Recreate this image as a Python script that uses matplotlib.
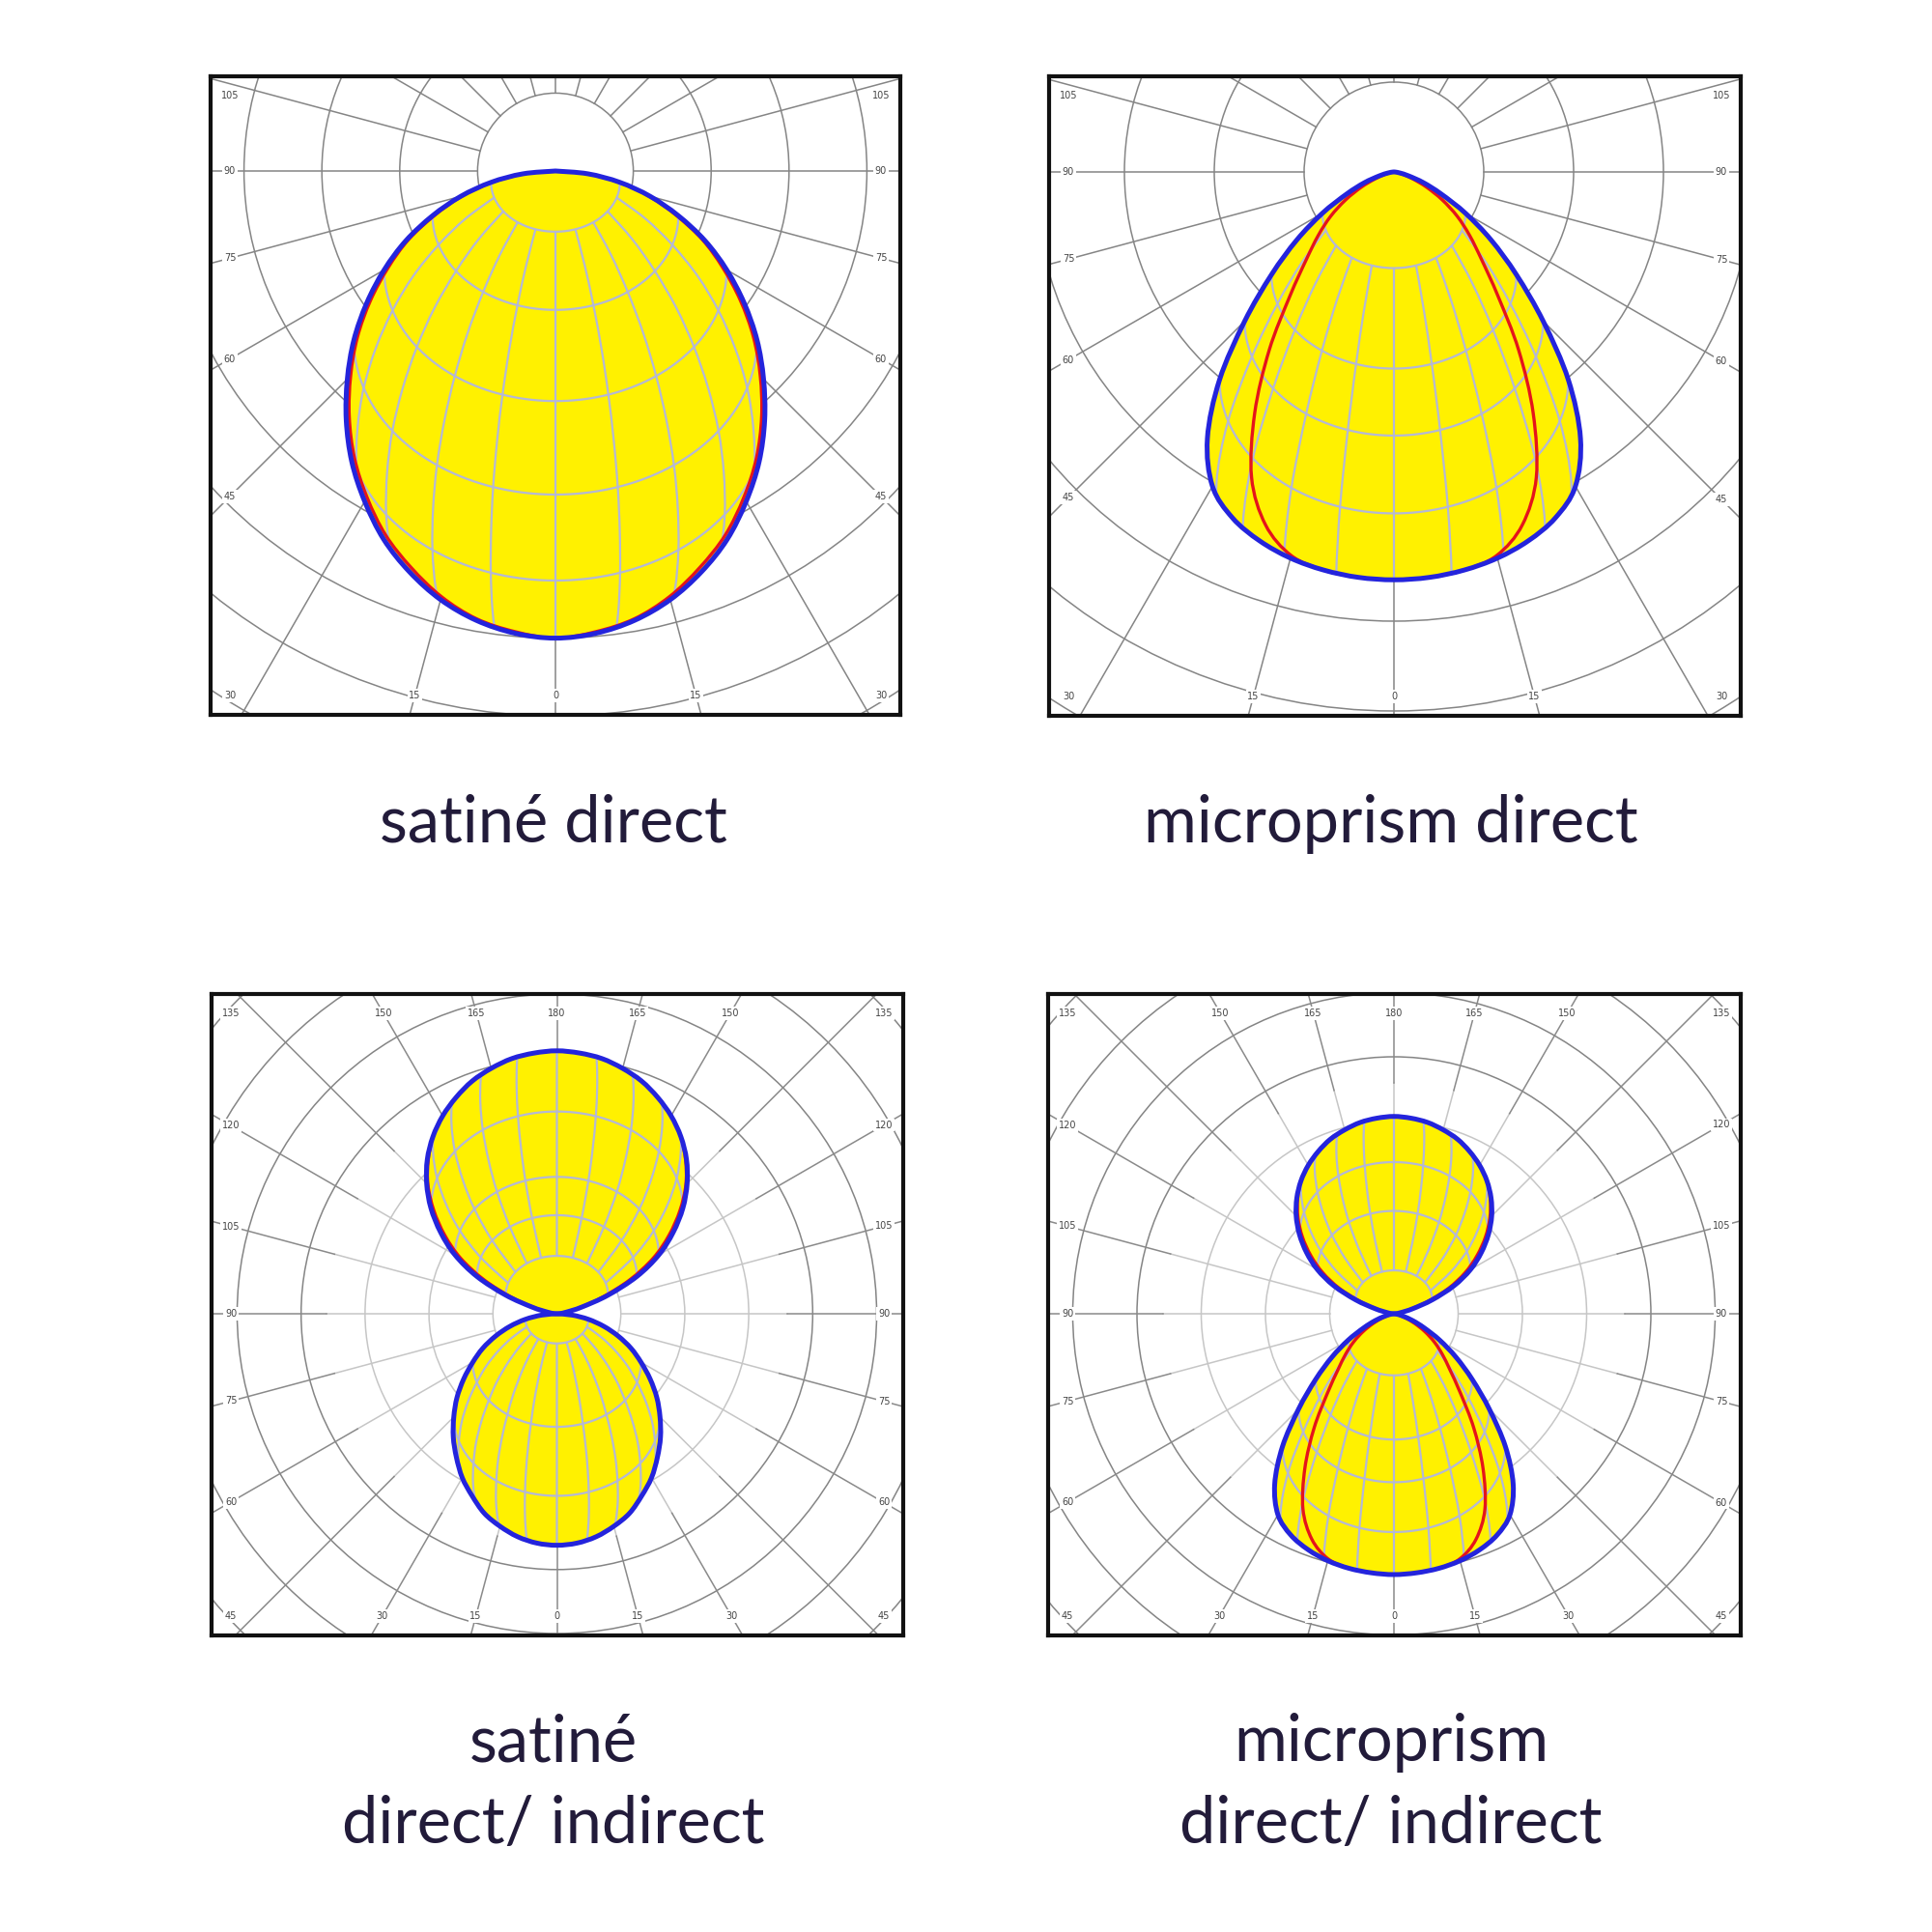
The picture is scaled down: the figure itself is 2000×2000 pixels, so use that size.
import numpy as np
import matplotlib
matplotlib.use("Agg")
import matplotlib.pyplot as plt
from matplotlib.patches import Circle, PathPatch
from matplotlib.path import Path

# ---------------- data (luminous intensity, cd/klm) ----------------
# angle measured from nadir for the direct lobes, from zenith for the indirect lobes
angles = [0, 5, 10, 15, 20, 25, 30, 35, 40, 45, 50, 55, 60, 65, 70, 75, 80, 85, 90]

satine_direct_c0 = [300, 298, 293, 285, 274, 261, 245, 228, 209, 189, 169, 148, 127, 106, 84, 63, 42, 21, 0]
satine_direct_c90 = [300, 297, 292, 283, 271, 258, 242, 225, 206, 186, 166, 145, 124, 104, 82, 62, 41, 20, 0]

micro_direct_c0 = [454, 453, 450, 445, 437, 425, 404, 362, 302, 235, 178, 132, 92, 58, 35, 17, 7, 2, 0]
micro_direct_c90 = [454, 453, 450, 442, 418, 375, 310, 242, 180, 138, 110, 86, 62, 40, 22, 10, 4, 1, 0]

satine_di_down_c0 = [90.5, 90, 88.5, 86, 83, 78.5, 74, 68.5, 63, 57, 51, 44.5, 38, 32, 25.5, 19, 12.5, 6, 0]
satine_di_down_c90 = [90.5, 90, 88.5, 86, 83, 78.5, 74, 68.5, 63, 57, 51, 44.5, 38, 32, 25.5, 19, 12.5, 6, 0]
satine_di_up_c0 = [102.8, 102.3, 101.3, 99.3, 96.8, 93.3, 89.3, 84.5, 78.8, 72, 64.3, 55.5, 46, 34.5, 21.3, 10, 3.8, 1.3, 0]
satine_di_up_c90 = [102.8, 102.3, 101.3, 99.3, 96.8, 93.3, 89.3, 84.5, 78.3, 71.3, 62.8, 53.5, 43.5, 31.5, 19, 9, 3.3, 1.3, 0]

micro_di_down_c0 = [101.5, 101.2, 100.6, 99.5, 97.7, 95, 90.3, 80.9, 67.5, 52.5, 39.8, 29.5, 20.6, 13, 7.8, 3.8, 1.6, 0.4, 0]
micro_di_down_c90 = [101.5, 101.2, 100.6, 98.8, 93.4, 83.8, 69.3, 54.1, 40.2, 30.8, 24.6, 19.2, 13.9, 8.9, 4.9, 2.2, 0.9, 0.2, 0]
micro_di_up_c0 = [76.8, 76.4, 75.6, 74.1, 72.3, 69.7, 66.7, 63.1, 58.8, 53.8, 48, 41.5, 34.4, 25.8, 15.9, 7.5, 2.8, 0.9, 0]
micro_di_up_c90 = [76.8, 76.4, 75.6, 74.1, 72.3, 69.7, 66.7, 63.1, 58.3, 52.8, 46.5, 39.5, 32, 23.5, 14, 6.5, 2.5, 0.9, 0]

titles = ["satiné direct", "microprism direct", "satiné\ndirect/ indirect", "microprism\ndirect/ indirect"]
label_angles_direct = [0, 15, 30, 45, 60, 75, 90, 105]
label_angles_full = [0, 15, 30, 45, 60, 75, 90, 105, 120, 135, 150, 165, 180]

# ---------------- layout / style ----------------
W = 2000.0
YELLOW = "#FFF100"
BLUE = "#2424DC"
RED = "#E5141B"
MESH = "#B4B8D6"
TITLE_COLOR = "#221b3a"

panels = [
    dict(box=(218, 79, 932, 740), center=(575, 177), ring_px=80.6, step=50,
         lobes=[(satine_direct_c0, satine_direct_c90, False, [80, 70, 60, 50, 40])],
         labels=label_angles_direct, light_inner=False,
         title=titles[0], tx=573, ty=872),
    dict(box=(1086, 79, 1802, 741), center=(1443, 178), ring_px=93.0, step=100,
         lobes=[(micro_direct_c0, micro_direct_c90, False, [60, 50, 45, 40])],
         labels=label_angles_direct, light_inner=False,
         title=titles[1], tx=1440, ty=872),
    dict(box=(219, 1029, 935, 1693), center=(576.5, 1360), ring_px=66.2, step=25,
         lobes=[(satine_di_up_c0, satine_di_up_c90, True, [70, 65, 60, 50]),
                (satine_di_down_c0, satine_di_down_c90, False, [80, 60, 45])],
         labels=label_angles_full, light_inner=True,
         title=titles[2], tx=573, ty=1823),
    dict(box=(1085, 1029, 1802, 1693), center=(1443, 1360), ring_px=66.5, step=25,
         lobes=[(micro_di_up_c0, micro_di_up_c90, True, [70, 60, 50]),
                (micro_di_down_c0, micro_di_down_c90, False, [60, 50, 45, 40])],
         labels=label_angles_full, light_inner=True,
         title=titles[3], tx=1440, ty=1823),
]

ELEV = np.radians(50)
LINE_GAP = 85


def smooth_path(pts, close=False):
    """Catmull-Rom spline through the points, rendered as cubic Bezier segments."""
    P = np.asarray(pts, float)
    n = len(P)
    verts = [P[0]]
    codes = [Path.MOVETO]
    for i in range(n - 1):
        p0 = P[max(i - 1, 0)]
        p1 = P[i]
        p2 = P[i + 1]
        p3 = P[min(i + 2, n - 1)]
        c1 = p1 + (p2 - p0) / 6.0
        c2 = p2 - (p3 - p1) / 6.0
        verts += [c1, c2, p2]
        codes += [Path.CURVE4] * 3
    if close:
        verts.append(P[0])
        codes.append(Path.CLOSEPOLY)
    return Path(np.array(verts), codes)


def lobe_xy(vals, up):
    g = np.radians(angles)
    v = np.asarray(vals, float)
    s = 1.0 if up else -1.0
    xr = v * np.sin(g)
    yr = s * v * np.cos(g)
    x = np.concatenate([xr[::-1], -xr[1:]])
    y = np.concatenate([yr[::-1], yr[1:]])
    return np.column_stack([x, y])


def draw_mesh(ax, c0, up, parallels, clip):
    g = np.radians(angles)
    c0 = np.asarray(c0, float)
    s = 1.0 if up else -1.0
    rim = max(parallels)
    sel = np.array(angles) <= rim
    for Cd in range(18, 180, 18):
        C = np.radians(Cd)
        X = c0 * np.sin(g) * np.cos(C)
        Y = c0 * np.sin(g) * np.sin(C)
        yy = s * (c0 * np.cos(g) + Y * np.sin(ELEV))
        pp = PathPatch(smooth_path(np.column_stack([X[sel], yy[sel]])), fill=False,
                       ec=MESH, lw=1.6, zorder=3)
        ax.add_patch(pp)
        pp.set_clip_path(clip)
    Cs = np.radians(np.linspace(0, 180, 91))
    for pa in parallels:
        k = angles.index(pa)
        X = c0[k] * np.sin(g[k]) * np.cos(Cs)
        Y = c0[k] * np.sin(g[k]) * np.sin(Cs)
        yy = s * (c0[k] * np.cos(g[k]) + Y * np.sin(ELEV))
        ln, = ax.plot(X, yy, color=MESH, lw=1.6, zorder=3)
        ln.set_clip_path(clip)


fig = plt.figure(figsize=(20, 20), dpi=100)
fig.patch.set_facecolor("white")

for p in panels:
    x0, y0, x1, y1 = p["box"]
    cx, cy = p["center"]
    u = p["step"] / p["ring_px"]  # data units per pixel
    ax = fig.add_axes([x0 / W, 1 - y1 / W, (x1 - x0) / W, (y1 - y0) / W])
    xl, xr_ = (x0 - cx) * u, (x1 - cx) * u
    yb, yt = (cy - y1) * u, (cy - y0) * u
    ax.set_xlim(xl, xr_)
    ax.set_ylim(yb, yt)
    ax.set_xticks([])
    ax.set_yticks([])
    for sp in ax.spines.values():
        sp.set_linewidth(3.0)
        sp.set_color("#111111")
        sp.set_zorder(10)

    step = p["step"]
    # rings
    for k in range(1, 12):
        col = "#c6c6c6" if (p["light_inner"] and k <= 3) else "#858585"
        ax.add_patch(Circle((0, 0), k * step, fill=False, ec=col, lw=1.1, zorder=1))
    # radial lines every 15 degrees
    for a in range(0, 360, 15):
        ar = np.radians(a)
        dx, dy = np.sin(ar), -np.cos(ar)
        if p["light_inner"]:
            ax.plot([step * dx, 3.6 * step * dx], [step * dy, 3.6 * step * dy],
                    color="#c6c6c6", lw=1.1, zorder=1)
            ax.plot([3.6 * step * dx, 14 * step * dx], [3.6 * step * dy, 14 * step * dy],
                    color="#8a8a8a", lw=1.1, zorder=1)
        else:
            ax.plot([step * dx, 14 * step * dx], [step * dy, 14 * step * dy],
                    color="#858585", lw=1.1, zorder=1)

    # lobes
    for c0, c90, up, pars in p["lobes"]:
        outline = smooth_path(lobe_xy(c0, up), close=True)
        fill = PathPatch(outline, fc=YELLOW, ec="none", zorder=2)
        ax.add_patch(fill)
        draw_mesh(ax, c0, up, pars, fill)
        ax.add_patch(PathPatch(smooth_path(lobe_xy(c90, up)), fill=False, ec=RED,
                               lw=2.4, zorder=4))
        ax.add_patch(PathPatch(outline, fill=False, ec=BLUE, lw=3.6, zorder=5,
                               joinstyle="round"))

    # angle labels along the border
    ins = 20 * u
    L, R, B, T = xl + ins, xr_ - ins, yb + ins, yt - ins
    thr = 0.7 * step
    for a in p["labels"]:
        sides = [1] if a in (0, 180) else [-1, 1]
        for sd in sides:
            ar = np.radians(a)
            dx, dy = sd * np.sin(ar), -np.cos(ar)
            ts = []
            if abs(dx) > 1e-9:
                ts.append(((R if dx > 0 else L) / dx, "v"))
            if abs(dy) > 1e-9:
                ts.append(((T if dy > 0 else B) / dy, "h"))
            t, kind = min(ts)
            px, py = t * dx, t * dy
            if kind == "v":
                if abs(py - B) < thr:
                    py = B
                if abs(py - T) < thr:
                    py = T
            else:
                if abs(px - L) < thr:
                    px = L
                if abs(px - R) < thr:
                    px = R
            ax.text(px, py, str(a), ha="center", va="center", fontsize=7,
                    color="#444444", zorder=6,
                    bbox=dict(fc="white", ec="none", pad=1.2))

    # title
    for i, line in enumerate(p["title"].split("\n")):
        yb_px = p["ty"] + i * LINE_GAP
        fig.text(p["tx"] / W, 1 - yb_px / W, line, ha="center", va="baseline",
                 fontsize=48, color=TITLE_COLOR, family="Lato", fontweight="normal")

fig.savefig("out.png", dpi=100, facecolor="white")
